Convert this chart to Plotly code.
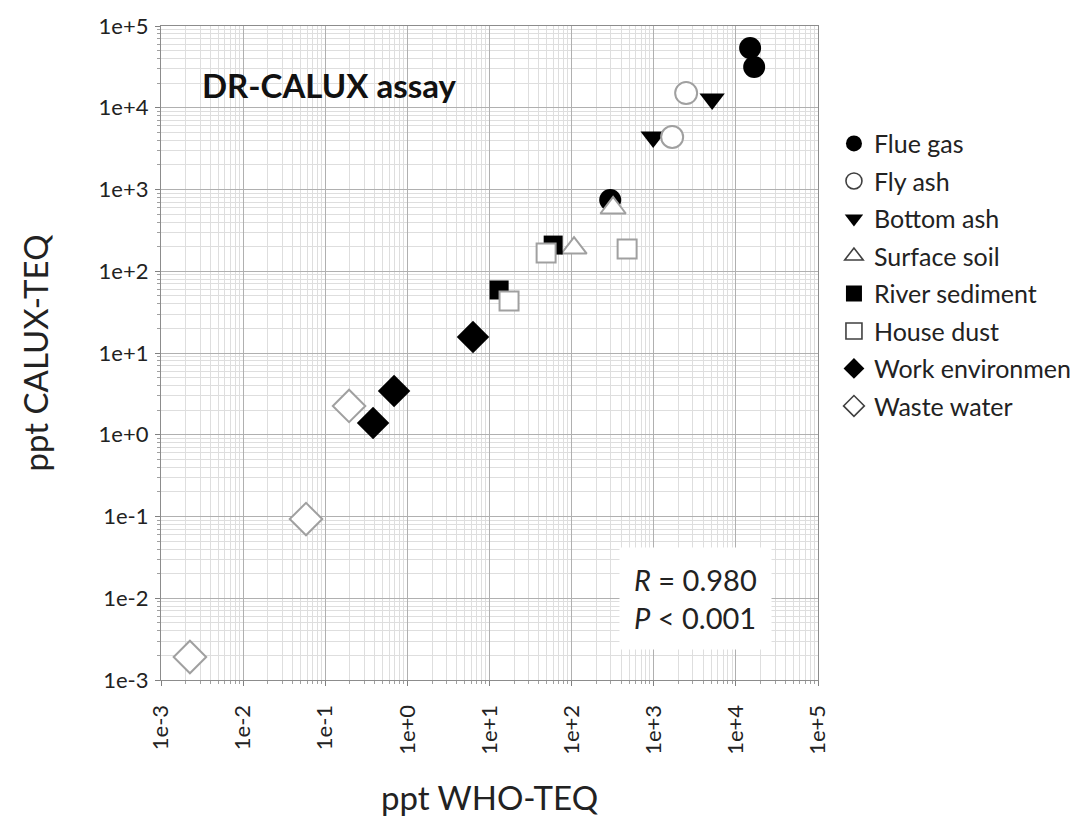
import plotly.graph_objects as go

# ---------------- data (ppt WHO-TEQ vs ppt CALUX-TEQ) ----------------
flue_gas_x = [14900, 16700, 295]
flue_gas_y = [53800, 31500, 745]
fly_ash_x = [2480, 1675]
fly_ash_y = [15100, 4390]
bottom_ash_x = [5140, 984]
bottom_ash_y = [12800, 4390]
surface_soil_x = [320, 107]
surface_soil_y = [594, 192]
river_sed_x = [59.6, 13.1]
river_sed_y = [209, 59]
house_dust_x = [48.9, 474, 17.3]
house_dust_y = [167, 187, 43.3]
work_env_x = [6.3, 0.689, 0.382]
work_env_y = [15.7, 3.43, 1.39]
waste_water_x = [0.195, 0.0583, 0.00225]
waste_water_y = [2.25, 0.093, 0.00191]

tick_vals = [1e-3, 1e-2, 1e-1, 1e0, 1e1, 1e2, 1e3, 1e4, 1e5]
tick_text = ["1e-3", "1e-2", "1e-1", "1e+0", "1e+1", "1e+2", "1e+3", "1e+4", "1e+5"]
minor_vals = [m * 10.0 ** e for e in range(-3, 5) for m in range(2, 10)]

FONT = "Lato"
BLACK = "#000000"
OPEN_EDGE = "#a0a0a0"
LEG_EDGE = "#404040"

series = [
    ("Flue gas", flue_gas_x, flue_gas_y, "circle", True, 22),
    ("Fly ash", fly_ash_x, fly_ash_y, "circle", False, 22),
    ("Bottom ash", bottom_ash_x, bottom_ash_y, "triangle-down", True, 22),
    ("Surface soil", surface_soil_x, surface_soil_y, "triangle-up", False, 22),
    ("River sediment", river_sed_x, river_sed_y, "square", True, 19),
    ("House dust", house_dust_x, house_dust_y, "square", False, 19),
    ("Work environmen", work_env_x, work_env_y, "diamond", True, 25),
    ("Waste water", waste_water_x, waste_water_y, "diamond", False, 25),
]
draw_order = [0, 2, 1, 3, 4, 5, 7, 6]

fig = go.Figure()

for i in draw_order:
    name, xs, ys, sym, filled, size = series[i]
    fig.add_trace(go.Scatter(
        x=xs, y=ys, mode="markers", name=name, showlegend=False,
        marker=dict(symbol=sym, size=size,
                    color=BLACK if filled else "white",
                    line=dict(color=BLACK if filled else OPEN_EDGE, width=0 if filled else 2)),
    ))

for name, xs, ys, sym, filled, size in series:
    fig.add_trace(go.Scatter(
        x=[None], y=[None], mode="markers", name=name, legendgroup=name,
        marker=dict(symbol=sym, size=16,
                    color=BLACK if filled else "white",
                    line=dict(color=BLACK if filled else LEG_EDGE, width=0 if filled else 1.6)),
    ))

axis_common = dict(
    type="log", range=[-3, 5],
    tickmode="array", tickvals=tick_vals, ticktext=tick_text,
    ticks="outside", ticklen=5, tickcolor="#808080",
    showgrid=True, gridcolor="#b0b0b0", gridwidth=1,
    showline=True, linecolor="#8c8c8c", linewidth=1.2, mirror=True,
    zeroline=False,
    tickfont=dict(family=FONT, size=22, color="#222222"),
    minor=dict(tickmode="array", tickvals=minor_vals, ticks="outside", ticklen=3,
               tickcolor="#a0a0a0", showgrid=True, gridcolor="#dedede", gridwidth=1),
)

fig.update_layout(
    width=1070, height=821,
    margin=dict(l=161, r=252, t=26, b=141, autoexpand=False),
    paper_bgcolor="white", plot_bgcolor="white",
    font=dict(family=FONT, color="#222222"),
    xaxis=dict(axis_common, tickangle=-90, ticklabelstandoff=10,
               title=dict(text="ppt WHO-TEQ", font=dict(family=FONT, size=33, color="#222222"), standoff=33)),
    yaxis=dict(axis_common, ticklabelstandoff=2,
               title=dict(text="ppt CALUX-TEQ", font=dict(family=FONT, size=33, color="#222222"), standoff=40)),
    legend=dict(xref="container", yref="container", x=0.7794, xanchor="left", y=0.853, yanchor="top",
                font=dict(family=FONT, size=25, color="#222222"),
                tracegroupgap=2, bgcolor="rgba(0,0,0,0)", traceorder="grouped"),
    showlegend=True,
)

fig.add_annotation(
    xref="paper", yref="paper", x=0.059, y=0.91, xanchor="left", yanchor="middle",
    text="<b>DR-CALUX assay</b>", showarrow=False,
    font=dict(family=FONT, size=33, color="#111111"),
)
fig.add_annotation(
    xref="paper", yref="paper", x=0.813, y=0.124, xanchor="center", yanchor="middle",
    text="<i>R</i> = 0.980<br><i>P</i> &lt; 0.001", showarrow=False, align="left",
    font=dict(family=FONT, size=29, color="#222222"),
    bgcolor="white", borderpad=14,
)

fig.write_html("out.html")
